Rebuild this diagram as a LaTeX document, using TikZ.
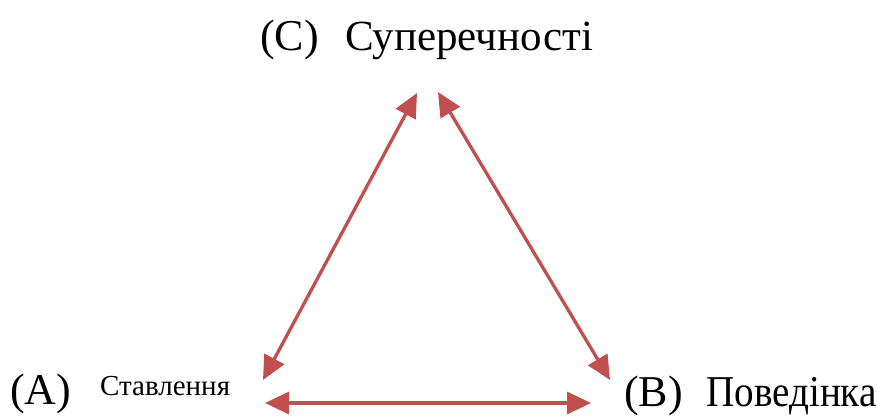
\documentclass[tikz,border=0pt]{standalone}
\usepackage{fontspec}
\setmainfont{Liberation Serif}
\newfontfamily\narrowserif[FakeStretch=0.89]{Liberation Serif}
\usetikzlibrary{arrows.meta}
\definecolor{arrred}{HTML}{C0504D}
\begin{document}
\begin{tikzpicture}[x=1pt,y=-1pt,
  lbl/.style={anchor=base west,inner sep=0pt,font=\fontsize{44}{48}\selectfont},
  smalllbl/.style={anchor=base west,inner sep=0pt,font=\fontsize{29}{32}\selectfont},
  link/.style={draw=arrred,line width=3.3pt,{Triangle[length=24pt,width=22pt]}-{Triangle[length=24pt,width=22pt]}}]
\useasboundingbox (0,0) rectangle (877,415);
\node[lbl] (cl) at (260,50) {(C)};
\node[lbl,font=\fontsize{43}{48}\selectfont] (ct) at (345,50) {Суперечності};
\node[lbl] (al) at (10,404) {(A)};
\node[smalllbl] (at) at (100,395) {Ставлення};
\node[lbl] (bl) at (624,406) {(B)};
\node[lbl,font=\fontsize{44}{48}\narrowserif] (bt) at (706,406) {Поведінка};
\coordinate (ctl) at (417,93);
\coordinate (ctr) at (438,92);
\coordinate (alt) at (263,380);
\coordinate (brt) at (610,380);
\coordinate (ab) at (265,403);
\coordinate (ba) at (591,403);
\draw[link] (alt) -- (ctl);
\draw[link] (brt) -- (ctr);
\draw[link] (ab) -- (ba);
\end{tikzpicture}
\end{document}
